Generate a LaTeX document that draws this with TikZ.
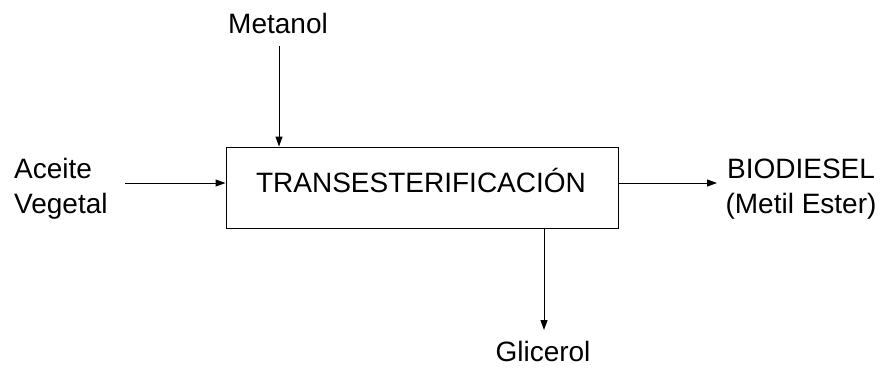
\documentclass[tikz,border=0pt]{standalone}
\usepackage{fontspec}
\setmainfont{Liberation Sans}
\usetikzlibrary{arrows.meta}
\begin{document}
\begin{tikzpicture}[x=1pt,y=-1pt,
  lbl/.style={inner sep=0pt,font=\fontsize{28}{35}\selectfont},
  procbox/.style={draw,line width=1pt,minimum width=392pt,minimum height=81pt,inner sep=0pt},
  flow/.style={line width=1pt,-{Triangle[length=10pt,width=7pt]}}]
\useasboundingbox (0,0) rectangle (885,368);
\node[procbox] (box) at (422,187.5) {};
\node[lbl,anchor=base] (t) at (421,192) {TRANSESTERIFICACIÓN};
\node[lbl,anchor=base] (met) at (278,33) {Metanol};
\node[lbl,anchor=base west,align=left] (ace) at (14,213) {Aceite\\Vegetal};
\node[lbl,anchor=base,align=center] (bio) at (801,213) {BIODIESEL\\(Metil Ester)};
\node[lbl,anchor=base] (gli) at (543,361) {Glicerol};
\coordinate (m0) at (279,46);
\coordinate (a0) at (125,183);
\coordinate (b1) at (717,183);
\coordinate (g1) at (544,330);
\draw[flow] (m0) -- (m0 |- box.north);
\draw[flow] (a0) -- (a0 -| box.west);
\draw[flow] (box.east |- b1) -- (b1);
\draw[flow] (box.south -| g1) -- (g1);
\end{tikzpicture}
\end{document}
